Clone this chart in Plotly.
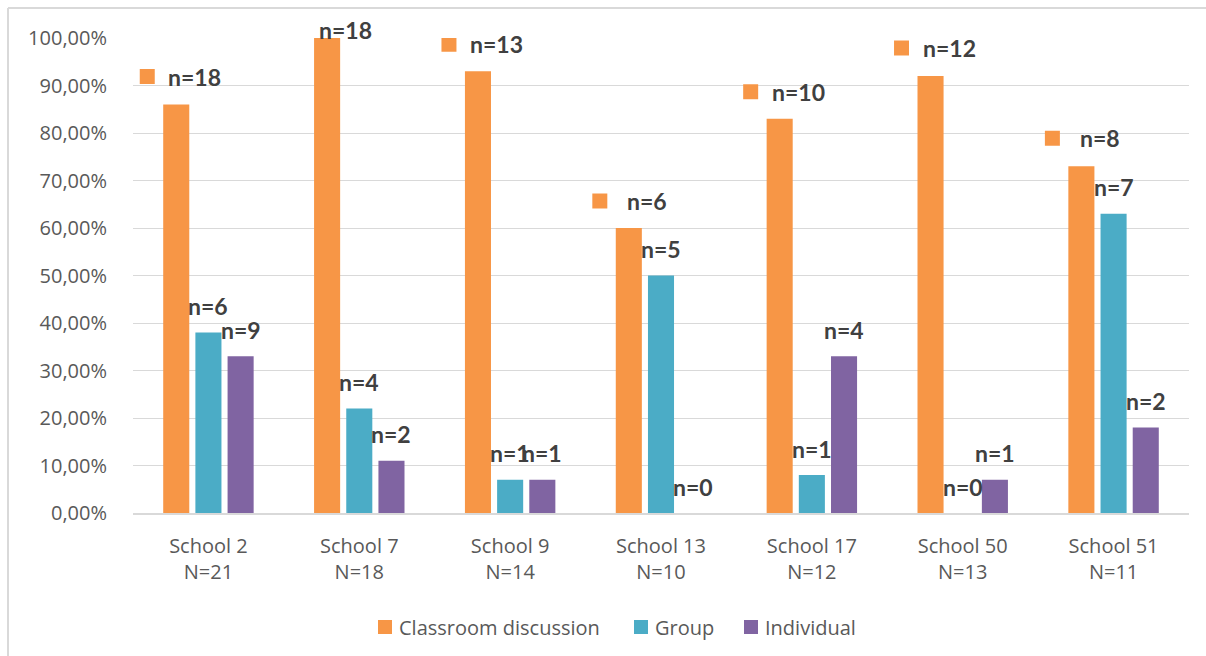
import plotly.graph_objects as go

# ---- data -------------------------------------------------------------
schools = ["School 2", "School 7", "School 9", "School 13", "School 17", "School 50", "School 51"]
school_sizes = [21, 18, 14, 10, 12, 13, 11]

series_names = ["Classroom discussion", "Group", "Individual"]
classroom_pct = [86, 100, 93, 60, 83, 92, 73]
group_pct = [38, 22, 7, 50, 8, 0, 63]
individual_pct = [33, 11, 7, 0, 33, 7, 18]

classroom_n = [18, 18, 13, 6, 10, 12, 8]
group_n = [6, 4, 1, 5, 1, 0, 7]
individual_n = [9, 2, 1, 0, 4, 1, 2]

y_ticks = [0, 10, 20, 30, 40, 50, 60, 70, 80, 90, 100]
y_tick_text = [f"{t:.2f}".replace(".", ",") + "%" for t in y_ticks]

# ---- styling ----------------------------------------------------------
W, H = 1206, 656
M_L, M_R, M_T, M_B = 133, 17, 38, 143
colors = ["#F79646", "#4BACC6", "#8064A2"]
GRID = "#D9D9D9"
TEXT = "#595959"
LABEL = "#404040"
BARGAP = 0.36
SLOT = (1 - BARGAP) / 3          # width of one bar slot, in category units

# vertical lift (px) of the classroom labels above their bar
classroom_lift = [28, 8, 27, 27, 27, 28, 28]
OTHER_LIFT = 26.5

pw = W - M_L - M_R
ph = H - M_T - M_B

categories = [f"{s}<br>N={n}" for s, n in zip(schools, school_sizes)]

fig = go.Figure()
for name, vals, col in zip(series_names, [classroom_pct, group_pct, individual_pct], colors):
    fig.add_trace(go.Bar(
        name=name, x=categories, y=vals,
        marker=dict(color=col, line=dict(width=0)),
        showlegend=False,
    ))

annotations = []
shapes = []
label_font = dict(family="Lato, Carlito, sans-serif", size=23, color=LABEL)

# classroom labels: legend key square + text, centred together over the bar
for i, (v, n) in enumerate(zip(classroom_pct, classroom_n)):
    xc = i - SLOT
    lift = classroom_lift[i]
    annotations.append(dict(
        x=xc, y=v, xref="x", yref="y", text=f"<b>n={n}</b>", showarrow=False,
        xanchor="center", yanchor="middle", xshift=18.5, yshift=lift, font=label_font,
    ))
    shapes.append(dict(
        type="rect", xref="x", yref="y",
        xsizemode="pixel", xanchor=xc, x0=-36.5, x1=-21.5,
        ysizemode="pixel", yanchor=v, y0=lift - 7.5, y1=lift + 7.5,
        fillcolor=colors[0], line=dict(width=0),
    ))

# group / individual labels, centred over their bars
for k, (vals, ns) in enumerate([(group_pct, group_n), (individual_pct, individual_n)]):
    for i, (v, n) in enumerate(zip(vals, ns)):
        annotations.append(dict(
            x=i + k * SLOT, y=v, xref="x", yref="y", text=f"<b>n={n}</b>", showarrow=False,
            xanchor="center", yanchor="middle", yshift=OTHER_LIFT, font=label_font,
        ))

# legend row below the axis: key square followed by the series name
legend_left_px = [378, 634, 744]
legend_mid_px = 627
KEY = 14
for name, col, lx in zip(series_names, colors, legend_left_px):
    shapes.append(dict(
        type="rect", xref="paper", yref="paper",
        x0=(lx - M_L) / pw, x1=(lx + KEY - M_L) / pw,
        y0=-(legend_mid_px + KEY / 2 - (H - M_B)) / ph,
        y1=-(legend_mid_px - KEY / 2 - (H - M_B)) / ph,
        fillcolor=col, line=dict(width=0),
    ))
    annotations.append(dict(
        x=(lx + KEY + 5 - M_L) / pw, y=-(legend_mid_px - (H - M_B)) / ph,
        xref="paper", yref="paper", text=name, showarrow=False,
        xanchor="left", yanchor="middle",
        font=dict(family="Open Sans, sans-serif", size=20, color=TEXT),
    ))

# chart-area border (top and left edges visible)
bx0 = (8 - M_L) / pw
bx1 = (W + 5 - M_L) / pw
by_top = 1 + (M_T - 8) / ph
by_bot = -(M_B + 5) / ph
shapes.append(dict(type="line", xref="paper", yref="paper", x0=bx0, x1=bx1, y0=by_top, y1=by_top,
                   line=dict(color=GRID, width=2)))
shapes.append(dict(type="line", xref="paper", yref="paper", x0=bx0, x1=bx0, y0=by_bot, y1=by_top,
                   line=dict(color=GRID, width=2)))

fig.update_layout(
    width=W, height=H,
    margin=dict(l=M_L, r=M_R, t=M_T, b=M_B, pad=0),
    paper_bgcolor="white", plot_bgcolor="white",
    barmode="group", bargap=BARGAP, bargroupgap=0.19,
    font=dict(family="Open Sans, sans-serif", size=20, color=TEXT),
    showlegend=False,
    annotations=annotations,
    shapes=shapes,
)

fig.update_yaxes(
    range=[0, 100], tickvals=y_ticks, ticktext=y_tick_text,
    showgrid=True, gridcolor=GRID, gridwidth=1.3, zeroline=False,
    ticks="outside", ticklen=21, tickcolor="rgba(0,0,0,0)",
    tickfont=dict(family="Open Sans, sans-serif", size=20, color=TEXT),
    showline=False, fixedrange=True,
)
fig.update_xaxes(
    type="category", showline=True, linecolor=GRID, linewidth=1.5,
    showgrid=False, ticks="outside", ticklen=14, tickcolor="rgba(0,0,0,0)",
    tickfont=dict(family="Open Sans, sans-serif", size=20, color=TEXT),
    fixedrange=True,
)

fig.write_html("out.html")
